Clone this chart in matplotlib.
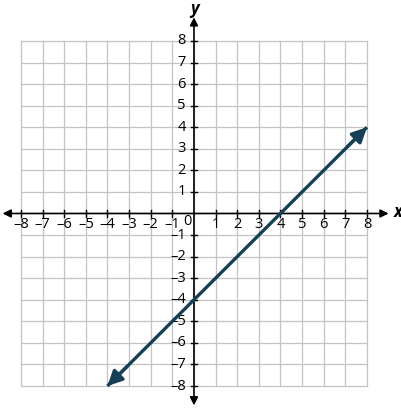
import matplotlib.pyplot as plt

# Data: line y = x - 4 drawn from x=-4 to x=8
line_x = [-4, 8]
line_y = [-8, 4]

ticks = [-8, -7, -6, -5, -4, -3, -2, -1, 1, 2, 3, 4, 5, 6, 7, 8]
grid_vals = list(range(-8, 9))

plt.rcParams['font.family'] = ['Open Sans', 'DejaVu Sans']

fig = plt.figure(figsize=(4.02, 4.08), dpi=100)
ax = fig.add_axes([0, 0, 1, 1])
ax.set_xlim(-8.97, 9.62)
ax.set_ylim(-9.02, 9.90)
ax.axis('off')

grid_color = '#c4c4c4'
for v in grid_vals:
    ax.plot([v, v], [-8, 8], color=grid_color, lw=0.9, zorder=1)
    ax.plot([-8, 8], [v, v], color=grid_color, lw=0.9, zorder=1)

# axes with arrows
arrow = dict(arrowstyle='-|>', color='black', lw=1.2, mutation_scale=12, shrinkA=0, shrinkB=0)
ax.annotate('', xy=(-8.85, 0), xytext=(0, 0), arrowprops=arrow, zorder=3)
ax.annotate('', xy=(9.0, 0), xytext=(0, 0), arrowprops=arrow, zorder=3)
ax.annotate('', xy=(0, 9.1), xytext=(0, 0), arrowprops=arrow, zorder=3)
ax.annotate('', xy=(0, -8.9), xytext=(0, 0), arrowprops=arrow, zorder=3)

tl = 0.15
for t in ticks:
    ax.plot([t, t], [-tl, tl], color='black', lw=1.0, zorder=3)
    ax.plot([-tl, tl], [t, t], color='black', lw=1.0, zorder=3)

fs = 10.5
for t in ticks:
    lab = str(t).replace('-', '\u2013')
    ax.text(t, -0.52, lab, ha='center', va='center', fontsize=fs, zorder=4)
    ax.text(-0.38, t, lab, ha='right', va='center', fontsize=fs, zorder=4)
ax.text(-0.1, -0.36, '0', ha='right', va='center', fontsize=fs, zorder=4)

ax.text(9.45, 0.05, 'x', ha='center', va='center', fontsize=12,
        fontweight='bold', fontstyle='italic')
ax.text(0, 9.5, 'y', ha='center', va='center', fontsize=12,
        fontweight='bold', fontstyle='italic')

# the line with arrows at both ends
c = '#173f55'
ax.plot(line_x, line_y, color=c, lw=2.4, zorder=5, solid_capstyle='butt')
la = dict(arrowstyle='-|>', color=c, lw=2.4, mutation_scale=22, shrinkA=0, shrinkB=0)
ax.annotate('', xy=(line_x[1], line_y[1]), xytext=(line_x[1] - 0.9, line_y[1] - 0.9),
            arrowprops=la, zorder=6)
ax.annotate('', xy=(line_x[0], line_y[0]), xytext=(line_x[0] + 0.9, line_y[0] + 0.9),
            arrowprops=la, zorder=6)

fig.savefig('out.png', dpi=100)
